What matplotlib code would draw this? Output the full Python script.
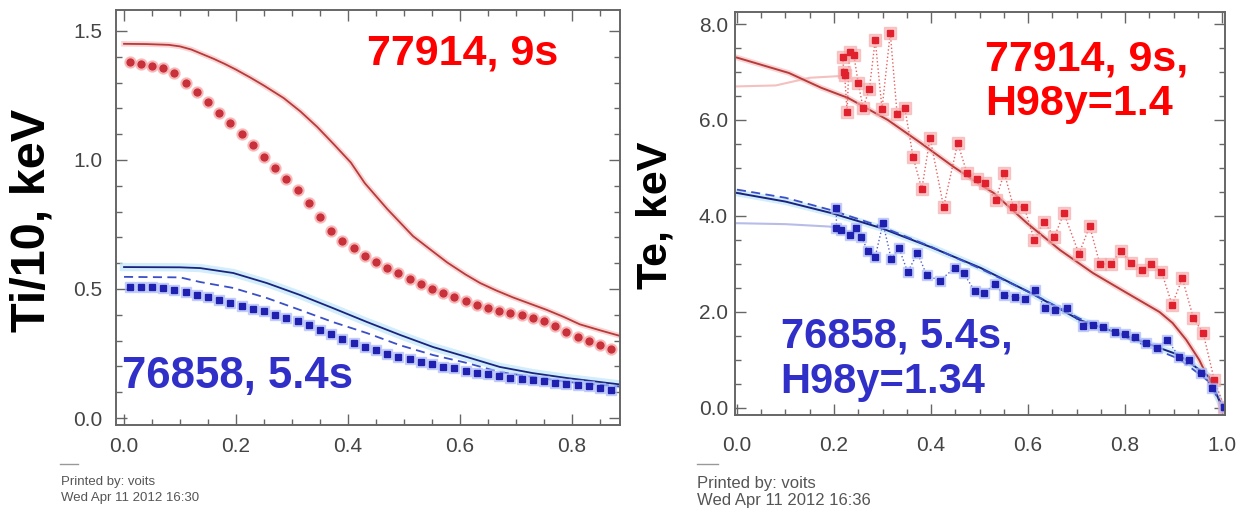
import numpy as np
import matplotlib.pyplot as plt
from matplotlib.lines import Line2D
from matplotlib.ticker import MultipleLocator

# ---- left panel: Ti/10 profiles -------------------------------------------
ti_rho_pts = [0.01, 0.03, 0.05, 0.07, 0.09, 0.11, 0.13, 0.15, 0.17, 0.19, 0.21,
              0.23, 0.25, 0.27, 0.29, 0.31, 0.33, 0.35, 0.37, 0.39, 0.41, 0.43,
              0.45, 0.47, 0.49, 0.51, 0.53, 0.55, 0.57, 0.59, 0.61, 0.63, 0.65,
              0.67, 0.69, 0.71, 0.73, 0.75, 0.77, 0.79, 0.81, 0.83, 0.85, 0.87]
ti_red_pts = [1.380, 1.372, 1.364, 1.357, 1.337, 1.298, 1.262, 1.224, 1.182, 1.143,
              1.100, 1.058, 1.012, 0.969, 0.926, 0.885, 0.835, 0.780, 0.724, 0.687,
              0.659, 0.628, 0.605, 0.581, 0.562, 0.539, 0.519, 0.500, 0.484, 0.469,
              0.453, 0.438, 0.426, 0.415, 0.407, 0.399, 0.388, 0.376, 0.357, 0.335,
              0.315, 0.297, 0.283, 0.268]
ti_blue_pts = [0.508, 0.508, 0.506, 0.503, 0.497, 0.490, 0.478, 0.469, 0.456, 0.446,
               0.433, 0.423, 0.414, 0.401, 0.388, 0.375, 0.359, 0.343, 0.324, 0.307,
               0.292, 0.275, 0.262, 0.250, 0.238, 0.227, 0.217, 0.208, 0.199, 0.192,
               0.182, 0.176, 0.169, 0.163, 0.157, 0.153, 0.148, 0.144, 0.137, 0.133,
               0.128, 0.124, 0.118, 0.110]

ti_red_fit_x = [0.0, 0.04, 0.08, 0.10, 0.12, 0.14, 0.16, 0.18, 0.20, 0.225, 0.25,
                0.285, 0.315, 0.345, 0.375, 0.405, 0.43, 0.47, 0.516, 0.55, 0.577,
                0.61, 0.636, 0.665, 0.695, 0.725, 0.755, 0.785, 0.814, 0.85, 0.886]
ti_red_fit_y = [1.450, 1.449, 1.446, 1.440, 1.428, 1.410, 1.392, 1.372, 1.350, 1.320,
                1.288, 1.240, 1.188, 1.128, 1.060, 0.990, 0.910, 0.810, 0.705, 0.648,
                0.603, 0.556, 0.523, 0.494, 0.467, 0.443, 0.419, 0.392, 0.363, 0.340,
                0.318]

ti_blue_fit_x = [0.0, 0.1, 0.136, 0.195, 0.255, 0.314, 0.373, 0.434, 0.493, 0.552,
                 0.613, 0.671, 0.73, 0.791, 0.886]
ti_blue_fit_y = [0.585, 0.584, 0.581, 0.562, 0.523, 0.477, 0.426, 0.372, 0.322, 0.275,
                 0.236, 0.198, 0.174, 0.155, 0.130]
ti_blue_dash_y = [0.547, 0.545, 0.527, 0.504, 0.465, 0.419, 0.372, 0.329, 0.282, 0.244,
                  0.213, 0.178, 0.159, 0.140, 0.122]

# ---- right panel: Te profiles ---------------------------------------------
te_red_x = [0.218, 0.220, 0.222, 0.227, 0.232, 0.241, 0.250, 0.260, 0.273, 0.285,
            0.299, 0.316, 0.330, 0.346, 0.363, 0.381, 0.398, 0.426, 0.455, 0.474,
            0.495, 0.512, 0.533, 0.551, 0.570, 0.592, 0.613, 0.633, 0.654, 0.674,
            0.705, 0.727, 0.748, 0.770, 0.791, 0.813, 0.834, 0.854, 0.875, 0.897,
            0.918, 0.941, 0.961, 0.984, 1.004]
te_red_y = [7.31, 7.00, 6.94, 6.17, 7.42, 7.35, 6.77, 6.25, 6.65, 7.67,
            6.23, 7.82, 6.13, 6.25, 5.23, 4.56, 5.63, 4.19, 5.52, 4.90,
            4.78, 4.69, 4.33, 4.90, 4.19, 4.19, 3.50, 3.88, 3.56, 4.06,
            3.21, 3.79, 3.00, 3.00, 3.27, 3.02, 2.88, 3.00, 2.84, 2.15,
            2.70, 1.87, 1.56, 0.58, 0.03]

te_blue_x = [0.205, 0.205, 0.215, 0.232, 0.246, 0.256, 0.270, 0.285, 0.301, 0.318,
             0.334, 0.352, 0.372, 0.391, 0.418, 0.449, 0.467, 0.490, 0.510, 0.531,
             0.551, 0.574, 0.594, 0.615, 0.635, 0.656, 0.680, 0.713, 0.734, 0.754,
             0.779, 0.799, 0.820, 0.844, 0.865, 0.887, 0.912, 0.932, 0.957, 0.980,
             1.004]
te_blue_y = [4.16, 3.75, 3.71, 3.60, 3.75, 3.57, 3.27, 3.15, 3.85, 3.10,
             3.33, 2.83, 3.23, 2.77, 2.65, 2.92, 2.81, 2.44, 2.40, 2.58,
             2.35, 2.31, 2.27, 2.46, 2.08, 2.04, 2.08, 1.71, 1.73, 1.69,
             1.58, 1.54, 1.48, 1.35, 1.25, 1.42, 1.06, 1.00, 0.73, 0.42,
             0.03]

te_red_fit_x = [0.0, 0.107, 0.174, 0.229, 0.311, 0.379, 0.447, 0.502, 0.529, 0.598,
                0.666, 0.734, 0.803, 0.871, 0.898, 0.926, 0.953, 0.973, 0.994, 1.0]
te_red_fit_y = [7.30, 6.98, 6.67, 6.46, 6.00, 5.52, 5.02, 4.65, 4.48, 3.85,
                3.29, 2.81, 2.40, 2.00, 1.77, 1.42, 1.00, 0.58, 0.17, 0.02]

te_blue_fit_x = [0.0, 0.1, 0.195, 0.297, 0.4, 0.502, 0.605, 0.707, 0.809, 0.912,
                 0.973, 1.0]
te_blue_fit_y = [4.48, 4.30, 4.06, 3.75, 3.35, 2.92, 2.40, 1.83, 1.48, 1.10, 0.65, 0.02]
te_blue_dash_y = [4.55, 4.38, 4.12, 3.78, 3.36, 2.90, 2.40, 1.86, 1.44, 1.02, 0.55, 0.03]

te_red_core_x = [0.0, 0.08, 0.15, 0.22]
te_red_core_y = [6.70, 6.72, 6.88, 6.92]
te_blue_core_x = [0.0, 0.1, 0.19, 0.205]
te_blue_core_y = [3.85, 3.83, 3.78, 3.76]

RED = "#e0202c"
RED_LINE = "#b83a3a"
BLUE = "#2020b0"
NAVY = "#1a237e"
BLUE_DASH = "#3a4fc8"
TICK = "#444444"
BOLD = "Liberation Sans"


def _frame(ax, xmajor, xminor, ymajor, yminor):
    ax.xaxis.set_major_locator(MultipleLocator(xmajor))
    ax.xaxis.set_minor_locator(MultipleLocator(xminor))
    ax.yaxis.set_major_locator(MultipleLocator(ymajor))
    ax.yaxis.set_minor_locator(MultipleLocator(yminor))
    ax.xaxis.set_major_formatter(plt.FormatStrFormatter("%.1f"))
    ax.yaxis.set_major_formatter(plt.FormatStrFormatter("%.1f"))
    ax.tick_params(which="both", direction="in", top=True, right=True,
                   color="#666666", width=1.0, labelcolor=TICK, labelsize=15)
    ax.tick_params(which="major", length=8)
    ax.tick_params(which="minor", length=4)
    for lab in ax.get_xticklabels() + ax.get_yticklabels():
        lab.set_family("Liberation Sans")
    for s in ax.spines.values():
        s.set_color("#666666")
        s.set_linewidth(1.4)


fig = plt.figure(figsize=(12.37, 5.11), dpi=100)

# left panel
ax1 = fig.add_axes([0.0938, 0.1683, 0.4074, 0.8121])
ax1.plot(ti_red_fit_x, ti_red_fit_y, color="#f6b8b8", lw=4, alpha=0.6)
ax1.plot(ti_red_fit_x, ti_red_fit_y, color=RED_LINE, lw=1.3)
ax1.plot(ti_blue_fit_x, ti_blue_fit_y, color="#bfe6fb", lw=6, alpha=0.7)
ax1.plot(ti_blue_fit_x, ti_blue_fit_y, color=NAVY, lw=1.3)
ax1.plot(ti_blue_fit_x, ti_blue_dash_y, color=BLUE_DASH, lw=1.3, ls=(0, (5, 3)))
ax1.plot(ti_rho_pts, ti_red_pts, ls="none", marker="o", ms=8, color="#f6a0a0", alpha=0.6)
ax1.plot(ti_rho_pts, ti_red_pts, ls="none", marker="o", ms=5, color="#c8303a")
ax1.plot(ti_rho_pts, ti_blue_pts, ls="none", marker="s", ms=7, color="#a8b8f8", alpha=0.6)
ax1.plot(ti_rho_pts, ti_blue_pts, ls="none", marker="s", ms=4, color=BLUE)
ax1.set_xlim(-0.0143, 0.8857)
ax1.set_ylim(-0.027, 1.581)
_frame(ax1, 0.2, 0.05, 0.5, 0.1)
ax1.tick_params(axis="x", pad=9)
ax1.tick_params(axis="y", pad=10)
ax1.text(0.434, 1.368, "77914, 9s", color="#ff0000", fontsize=31, fontweight="bold",
         family=BOLD, va="baseline")
ax1.text(-0.004, 0.116, "76858, 5.4s", color="#3030c8", fontsize=31.5, fontweight="bold",
         family=BOLD, va="baseline")

# right panel
ax2 = fig.add_axes([0.5942, 0.1879, 0.3961, 0.7886])
ax2.plot(te_red_core_x, te_red_core_y, color="#f4c0c0", lw=1.5)
ax2.plot(te_blue_core_x, te_blue_core_y, color="#b8bde8", lw=1.5)
ax2.plot(te_red_fit_x, te_red_fit_y, color="#f6b8b8", lw=4, alpha=0.6)
ax2.plot(te_red_fit_x, te_red_fit_y, color=RED_LINE, lw=1.4)
ax2.plot(te_blue_fit_x, te_blue_fit_y, color="#bfe6fb", lw=5, alpha=0.7)
ax2.plot(te_blue_fit_x, te_blue_fit_y, color=NAVY, lw=1.4)
ax2.plot(te_blue_fit_x, te_blue_dash_y, color=BLUE_DASH, lw=1.3, ls=(0, (5, 3)))
ax2.plot(te_red_x, te_red_y, ls=":", lw=1.0, color="#e86060")
ax2.plot(te_red_x, te_red_y, ls="none", marker="s", ms=8, color="#f6a8a8", alpha=0.6)
ax2.plot(te_red_x, te_red_y, ls="none", marker="s", ms=5, color=RED)
ax2.plot(te_blue_x, te_blue_y, ls=":", lw=1.0, color="#5060d0")
ax2.plot(te_blue_x, te_blue_y, ls="none", marker="s", ms=7, color="#a8b8f8", alpha=0.6)
ax2.plot(te_blue_x, te_blue_y, ls="none", marker="s", ms=4, color=BLUE)
ax2.set_xlim(-0.004, 1.006)
ax2.set_ylim(-0.146, 8.25)
_frame(ax2, 0.2, 0.05, 2.0, 0.5)
ax2.tick_params(axis="x", pad=15)
ax2.tick_params(axis="y", pad=5)
ax2.text(0.512, 7.04, "77914, 9s,", color="#ff0000", fontsize=31, fontweight="bold",
         family=BOLD, va="baseline")
ax2.text(0.512, 6.10, "H98y=1.4", color="#ff0000", fontsize=31, fontweight="bold",
         family=BOLD, va="baseline")
ax2.text(0.09, 1.25, "76858, 5.4s,", color="#3030c8", fontsize=30, fontweight="bold",
         family=BOLD, va="baseline")
ax2.text(0.09, 0.31, "H98y=1.34", color="#3030c8", fontsize=30, fontweight="bold",
         family=BOLD, va="baseline")

# y labels
fig.text(0.026, 0.569, "Ti/10, keV", rotation=90, fontsize=35, fontweight="bold",
         family=BOLD, ha="center", va="center")
fig.text(0.530, 0.579, "Te, keV", rotation=90, fontsize=31, fontweight="bold",
         family=BOLD, ha="center", va="center")

# print stamps
fig.add_artist(Line2D([60 / 1237, 78 / 1237], [1 - 464 / 511] * 2, color="#999999", lw=1))
fig.text(61 / 1237, 1 - 482 / 511, "Printed by: voits", fontsize=9.5, color="#555555",
         family="Liberation Sans", va="center")
fig.text(61 / 1237, 1 - 498 / 511, "Wed Apr 11 2012 16:30", fontsize=9.5, color="#555555",
         family="Liberation Sans", va="center")
fig.add_artist(Line2D([697 / 1237, 718 / 1237], [1 - 464 / 511] * 2, color="#999999", lw=1))
fig.text(697 / 1237, 1 - 483 / 511, "Printed by: voits", fontsize=12, color="#555555",
         family="Liberation Sans", va="center")
fig.text(697 / 1237, 1 - 500 / 511, "Wed Apr 11 2012 16:36", fontsize=12, color="#555555",
         family="Liberation Sans", va="center")

fig.savefig("out.png", dpi=100)
plt.close(fig)
